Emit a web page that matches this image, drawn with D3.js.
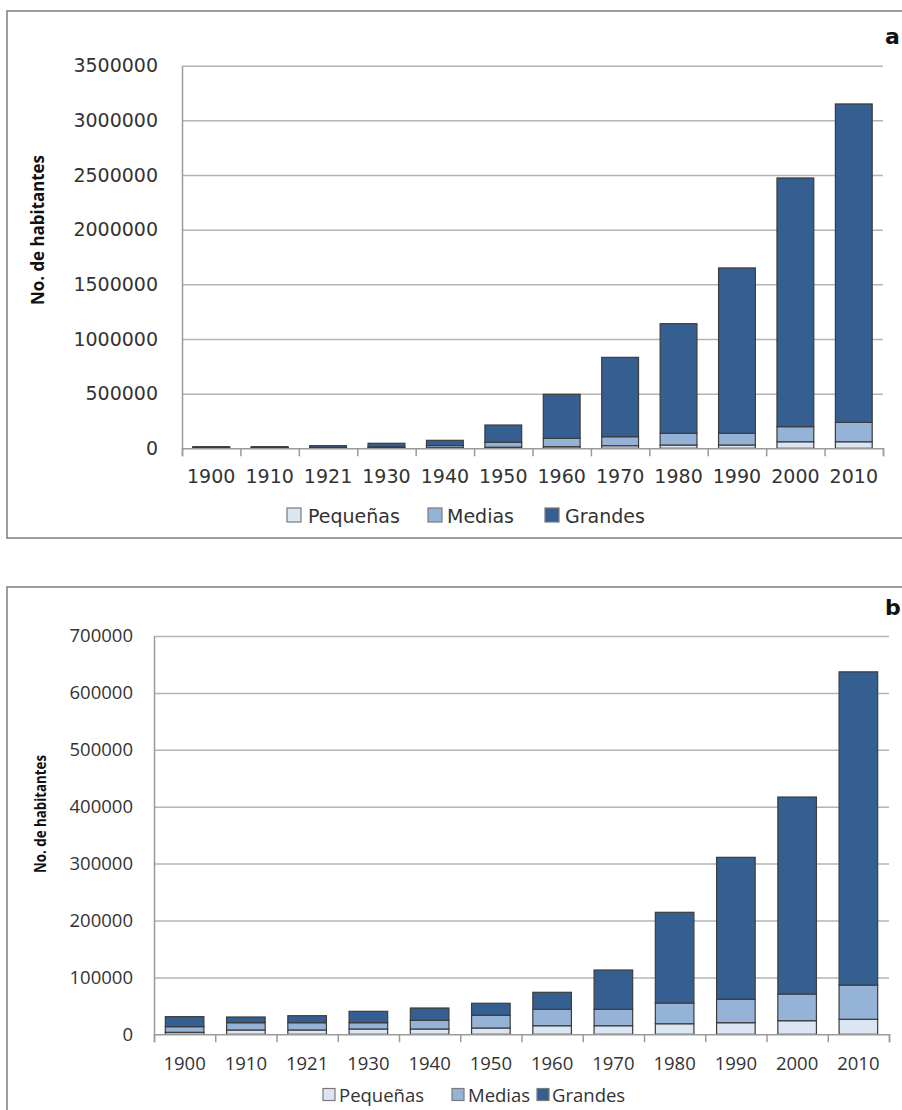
<!DOCTYPE html>
<html>
<head>
<meta charset="utf-8">
<script src="https://cdn.jsdelivr.net/npm/d3@7"></script>
<style>
  html, body { margin: 0; padding: 0; background: #fff; }
  svg { display: block; }
</style>
</head>
<body>
<div id="chart"></div>
<script>
"use strict";

// categories and series
var years = ["1900", "1910", "1921", "1930", "1940", "1950", "1960", "1970", "1980", "1990", "2000", "2010"];
var seriesNames = ["Pequeñas", "Medias", "Grandes"];

// panel a values (habitantes)
var aPequenas = [3000, 3000, 3000, 4000, 5000, 10000, 15000, 24000, 30000, 30000, 60000, 60000];
var aMedias = [4000, 4000, 5000, 8000, 20000, 45000, 76500, 82000, 107000, 107000, 138000, 178000];
var aGrandes = [8000, 8000, 16000, 34000, 48000, 158000, 402500, 726000, 1003000, 1513000, 2275000, 2912000];
var aTicks = [0, 500000, 1000000, 1500000, 2000000, 2500000, 3000000, 3500000];

// panel b values (habitantes)
var bPequenas = [3500, 7600, 7600, 9300, 9300, 11100, 15100, 15100, 18600, 20400, 23900, 26400];
var bMedias = [9900, 12800, 12800, 11100, 15300, 22300, 28900, 28900, 36400, 41100, 46900, 60200];
var bGrandes = [17600, 10000, 12300, 20000, 21600, 21100, 29800, 69000, 159400, 249500, 346200, 550400];
var bTicks = [0, 100000, 200000, 300000, 400000, 500000, 600000, 700000];

var colors = ["#dce6f2", "#95b3d7", "#355e91"];

var svg = d3.select("#chart")
    .append("svg")
    .attr("width", 902)
    .attr("height", 1110);

//Builds one stacked bar panel
function drawPanel(p) {
    var rows = years.map(function (yr, i) {
        return { year: yr, "Pequeñas": p.pequenas[i], "Medias": p.medias[i], "Grandes": p.grandes[i] };
    });
    var stacked = d3.stack().keys(seriesNames)(rows);

    // frame round the panel
    svg.append("rect")
        .attr("x", 7).attr("y", p.frameTop)
        .attr("width", 1000).attr("height", p.frameHeight)
        .attr("fill", "none")
        .attr("stroke", "#858585")
        .attr("stroke-width", 1.6);

    var x = d3.scaleBand()
        .domain(years)
        .range([p.left, p.right])
        .paddingInner(0.37)
        .paddingOuter(0.185);

    var y = d3.scaleLinear()
        .domain([0, d3.max(p.ticks)])
        .range([p.bottom, p.top]);

    var g = svg.append("g");

    // horizontal gridlines
    g.append("g")
        .attr("transform", "translate(" + p.left + ",0)")
        .call(d3.axisLeft(y).tickValues(p.ticks.slice(1)).tickSize(-(p.right - p.left)).tickFormat(""))
        .call(function (s) {
            s.select(".domain").remove();
            s.selectAll("line").attr("stroke", "#b4b4b4").attr("stroke-width", 1.5);
        });

    // y axis labels
    g.append("g")
        .attr("transform", "translate(" + p.left + ",0)")
        .call(d3.axisLeft(y).tickValues(p.ticks).tickSize(0).tickPadding(p.yPad).tickFormat(d3.format("d")))
        .call(function (s) {
            s.select(".domain").attr("stroke", "#9a9a9a").attr("stroke-width", 1.5);
            s.selectAll("text")
                .attr("font-family", p.font)
                .attr("font-size", p.fontSize)
                .attr("fill", "#333");
        });

    // bars
    g.selectAll("g.layer")
        .data(stacked)
        .enter()
        .append("g")
        .attr("class", "layer")
        .attr("fill", function (d, i) { return colors[i]; })
        .selectAll("rect")
        .data(function (d) { return d; })
        .enter()
        .append("rect")
        .attr("x", function (d) { return x(d.data.year); })
        .attr("width", x.bandwidth())
        .attr("y", function (d) { return y(d[1]); })
        .attr("height", function (d) { return y(d[0]) - y(d[1]); })
        .attr("stroke", "#3c3c3c")
        .attr("stroke-width", 1.2);

    // x axis with tick marks between categories
    var edges = d3.scaleLinear().domain([0, years.length]).range([p.left, p.right]);
    g.append("g")
        .attr("transform", "translate(0," + p.bottom + ")")
        .call(d3.axisBottom(edges).tickValues(d3.range(years.length + 1)).tickSize(8).tickFormat(""))
        .call(function (s) {
            s.selectAll("path, line").attr("stroke", "#9a9a9a").attr("stroke-width", 1.5);
        });

    g.append("g")
        .attr("transform", "translate(0," + p.bottom + ")")
        .call(d3.axisBottom(x).tickSize(0).tickPadding(p.xPad))
        .call(function (s) {
            s.select(".domain").remove();
            s.selectAll("text")
                .attr("font-family", p.font)
                .attr("font-size", p.fontSize)
                .attr("fill", "#333");
        });

    // y axis title
    svg.append("text")
        .attr("transform", "translate(" + p.titleX + "," + p.titleY + ") rotate(-90)")
        .attr("text-anchor", "middle")
        .attr("font-family", "Open Sans")
        .attr("font-size", p.titleSize)
        .attr("font-weight", "bold")
        .attr("textLength", p.titleLen)
        .attr("lengthAdjust", "spacingAndGlyphs")
        .attr("fill", "#111")
        .text("No. de habitantes");

    // panel letter
    svg.append("text")
        .attr("x", 885).attr("y", p.letterY)
        .attr("font-family", "DejaVu Sans")
        .attr("font-size", 22)
        .attr("font-weight", "bold")
        .attr("fill", "#111")
        .text(p.letter);

    // legend
    var leg = svg.append("g");
    seriesNames.forEach(function (name, i) {
        leg.append("rect")
            .attr("x", p.legSwatch[i]).attr("y", p.legY - p.sw - 1)
            .attr("width", p.sw).attr("height", p.sw)
            .attr("fill", colors[i])
            .attr("stroke", "#7a7a7a")
            .attr("stroke-width", 1.2);
        leg.append("text")
            .attr("x", p.legText[i]).attr("y", p.legY)
            .attr("font-family", p.font)
            .attr("font-size", p.fontSize)
            .attr("fill", "#333")
            .text(name);
    });
}

drawPanel({
    pequenas: aPequenas, medias: aMedias, grandes: aGrandes, ticks: aTicks,
    frameTop: 11, frameHeight: 527,
    left: 182, right: 883, top: 65.7, bottom: 448.3,
    font: "DejaVu Sans", fontSize: 19, yPad: 24, xPad: 21,
    titleSize: 17, titleLen: 150, titleX: 44, titleY: 230,
    letter: "a", letterY: 44,
    legY: 523, sw: 14, legSwatch: [287, 428, 545], legText: [308, 447, 565]
});

drawPanel({
    pequenas: bPequenas, medias: bMedias, grandes: bGrandes, ticks: bTicks,
    frameTop: 587, frameHeight: 600,
    left: 154, right: 889, top: 636, bottom: 1034.3,
    font: "Open Sans", fontSize: 18.5, yPad: 21, xPad: 22.5,
    titleSize: 16, titleLen: 118, titleX: 46, titleY: 814,
    letter: "b", letterY: 615,
    legY: 1101.5, sw: 12, legSwatch: [323, 452, 537], legText: [339, 468, 552]
});
</script>
</body>
</html>
